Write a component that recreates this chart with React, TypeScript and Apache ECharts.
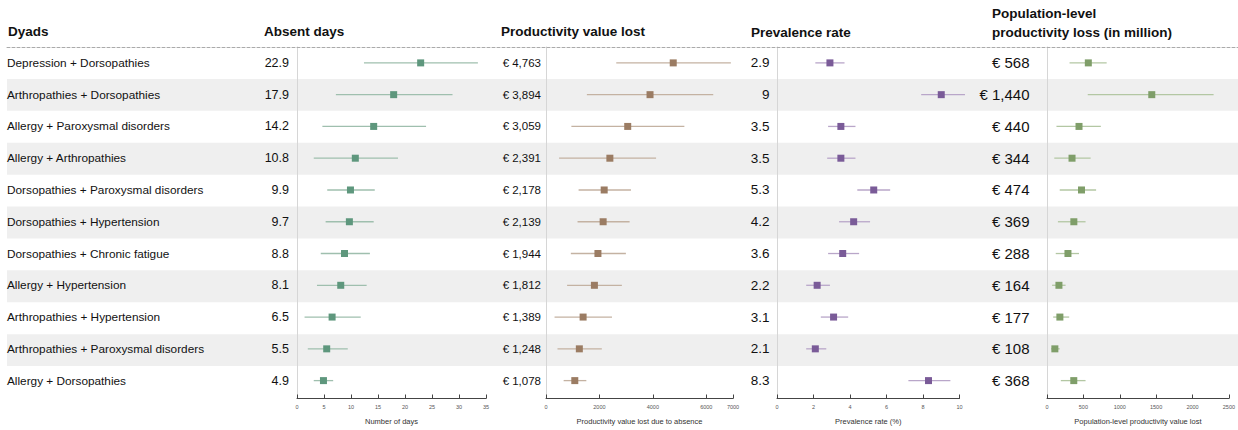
import React, { useEffect, useRef } from "react";
import * as echarts from "echarts";

const dyads = [
  "Depression + Dorsopathies",
  "Arthropathies + Dorsopathies",
  "Allergy + Paroxysmal disorders",
  "Allergy + Arthropathies",
  "Dorsopathies + Paroxysmal disorders",
  "Dorsopathies + Hypertension",
  "Dorsopathies + Chronic fatigue",
  "Allergy + Hypertension",
  "Arthropathies + Hypertension",
  "Arthropathies + Paroxysmal disorders",
  "Allergy + Dorsopathies",
];

const absentDays = [22.9, 17.9, 14.2, 10.8, 9.9, 9.7, 8.8, 8.1, 6.5, 5.5, 4.9];
const absentLow = [12.4, 7.2, 4.7, 3.1, 5.6, 5.3, 4.4, 3.7, 1.4, 2.0, 3.1];
const absentHigh = [33.5, 28.8, 23.9, 18.7, 14.4, 14.2, 13.5, 12.9, 11.8, 9.4, 6.7];

const productivity = [4763, 3894, 3059, 2391, 2178, 2139, 1944, 1812, 1389, 1248, 1078];
const prodLow = [2630, 1530, 950, 490, 1220, 1180, 930, 790, 320, 430, 660];
const prodHigh = [6920, 6260, 5180, 4120, 3180, 3130, 2990, 2840, 2470, 2090, 1510];

const prevalence = [2.9, 9, 3.5, 3.5, 5.3, 4.2, 3.6, 2.2, 3.1, 2.1, 8.3];
const prevLow = [2.1, 7.9, 2.8, 2.75, 4.4, 3.4, 2.8, 1.6, 2.4, 1.6, 7.2];
const prevHigh = [3.7, 10.3, 4.3, 4.3, 6.2, 5.1, 4.5, 2.9, 3.9, 2.7, 9.5];

const population = [568, 1440, 440, 344, 474, 369, 288, 164, 177, 108, 368];
const popLow = [310, 560, 130, 100, 175, 150, 120, 70, 85, 55, 190];
const popHigh = [820, 2290, 740, 600, 675, 530, 440, 255, 305, 175, 530];

const FONT = "'Liberation Sans', Arial, sans-serif";

const euro = (v: number) => "€ " + v.toLocaleString("en-US");

type Panel = {
  left: number;
  width: number;
  max: number;
  interval: number;
  name: string;
  values: number[];
  low: number[];
  high: number[];
  labels: string[];
  labelSize: number;
  labelMargin: number;
  mark: string;
  ci: string;
};

const panels: Panel[] = [
  {
    left: 297, width: 189, max: 35, interval: 5, name: "Number of days",
    values: absentDays, low: absentLow, high: absentHigh,
    labels: absentDays.map((v) => String(v)), labelSize: 12.5, labelMargin: 8,
    mark: "#5e977d", ci: "#9fbfae",
  },
  {
    left: 546, width: 187, max: 7000, interval: 2000, name: "Productivity value lost due to absence",
    values: productivity, low: prodLow, high: prodHigh,
    labels: productivity.map(euro), labelSize: 11.5, labelMargin: 5,
    mark: "#9b7c63", ci: "#c4b2a2",
  },
  {
    left: 777, width: 182.5, max: 10, interval: 2, name: "Prevalence rate (%)",
    values: prevalence, low: prevLow, high: prevHigh,
    labels: prevalence.map((v) => String(v)), labelSize: 13.5, labelMargin: 7.5,
    mark: "#7a5b98", ci: "#b9a6c9",
  },
  {
    left: 1047, width: 190, max: 2500, interval: 500, name: "Population-level productivity value lost",
    values: population, low: popLow, high: popHigh,
    labels: population.map(euro), labelSize: 15, labelMargin: 17.5,
    mark: "#7f9e69", ci: "#b3c7a3",
  },
];

const TOP = 47;
const HEIGHT = 351;

export default function App() {
  const ref = useRef<HTMLDivElement>(null);

  useEffect(() => {
    document.body.style.margin = "0";
    if (!ref.current) return;
    const chart = echarts.init(ref.current, undefined, { renderer: "svg" });

    const grids: any[] = [{ left: 7, right: 0, top: TOP, height: HEIGHT }];
    const xAxes: any[] = [
      {
        gridIndex: 0, type: "value", position: "top", min: 0, max: 1,
        axisLine: { show: true, lineStyle: { color: "#aaaaaa", type: [3, 2], width: 1 } },
        axisTick: { show: false }, axisLabel: { show: false }, splitLine: { show: false },
      },
    ];
    const yAxes: any[] = [
      {
        gridIndex: 0, type: "category", inverse: true, data: dyads,
        axisLine: { show: false }, axisTick: { show: false }, axisLabel: { show: false },
        splitArea: { show: true, areaStyle: { color: ["rgba(255,255,255,0)", "#efefef"] } },
      },
    ];
    const series: any[] = [];

    panels.forEach((p, i) => {
      const g = i + 1;
      grids.push({ left: p.left, width: p.width, top: TOP, height: HEIGHT });
      xAxes.push({
        gridIndex: g, type: "value", min: 0, max: p.max, interval: p.interval,
        position: "bottom", offset: 2,
        name: p.name, nameLocation: "middle", nameGap: 18.5,
        nameTextStyle: { fontSize: 7.5, color: "#333333", fontFamily: FONT },
        axisLine: { show: true, lineStyle: { color: "#444", width: 1 } },
        axisTick: { show: true, inside: true, length: 4, lineStyle: { color: "#444" } },
        axisLabel: {
          fontSize: 5.5, color: "#555555", margin: 5, fontFamily: FONT,
          formatter: (v: number) => String(v),
        },
        splitLine: { show: false },
      });
      const firstY = yAxes.length;
      if (i === 0) {
        yAxes.push({
          gridIndex: g, type: "category", inverse: true, data: dyads, position: "left",
          axisLine: { show: true, lineStyle: { color: "#d6d6d6" } },
          axisTick: { show: false },
          axisLabel: { align: "left", margin: 290, fontSize: 11.8, color: "#111", fontFamily: FONT },
        });
        yAxes.push({
          gridIndex: g, type: "category", inverse: true, data: p.labels, position: "left",
          axisLine: { show: false }, axisTick: { show: false },
          axisLabel: { align: "right", margin: p.labelMargin, fontSize: p.labelSize, color: "#111", fontFamily: FONT },
        });
      } else {
        yAxes.push({
          gridIndex: g, type: "category", inverse: true, data: p.labels, position: "left",
          axisLine: { show: true, lineStyle: { color: "#d6d6d6" } },
          axisTick: { show: false },
          axisLabel: { align: "right", margin: p.labelMargin, fontSize: p.labelSize, color: "#111", fontFamily: FONT },
        });
      }
      const ciColor = p.ci;
      series.push({
        type: "custom",
        xAxisIndex: g,
        yAxisIndex: firstY,
        clip: false,
        encode: { x: [0, 1], y: 2 },
        data: p.values.map((_, k) => [p.low[k], p.high[k], k]),
        renderItem: (params: any, api: any) => {
          const y = api.value(2);
          const a = api.coord([api.value(0), y]);
          const b = api.coord([api.value(1), y]);
          return {
            type: "line",
            shape: { x1: a[0], y1: a[1], x2: b[0], y2: b[1] },
            style: { stroke: ciColor, lineWidth: 1.3 },
          };
        },
        z: 2,
      });
      series.push({
        type: "scatter",
        xAxisIndex: g,
        yAxisIndex: firstY,
        symbol: "rect",
        symbolSize: 7,
        itemStyle: { color: p.mark, opacity: 1 },
        data: p.values.map((v, k) => [v, k]),
        z: 3,
      });
    });

    const header = (text: string, x: number, y: number) => ({
      type: "text",
      x,
      y,
      style: {
        text,
        fill: "#111",
        font: `bold 13.5px ${FONT}`,
        textAlign: "left",
        textVerticalAlign: "middle",
        align: "left",
        verticalAlign: "middle",
      },
    });

    chart.setOption({
      animation: false,
      backgroundColor: "#ffffff",
      textStyle: { fontFamily: FONT },
      grid: grids,
      xAxis: xAxes,
      yAxis: yAxes,
      series,
      graphic: [
        header("Dyads", 8, 31),
        header("Absent days", 264, 31),
        header("Productivity value lost", 501, 31),
        header("Prevalence rate", 751, 32),
        header("Population-level", 992, 13),
        header("productivity loss (in million)", 992, 32),
      ],
    });

    return () => chart.dispose();
  }, []);

  return <div ref={ref} style={{ width: 1238, height: 430 }} />;
}
